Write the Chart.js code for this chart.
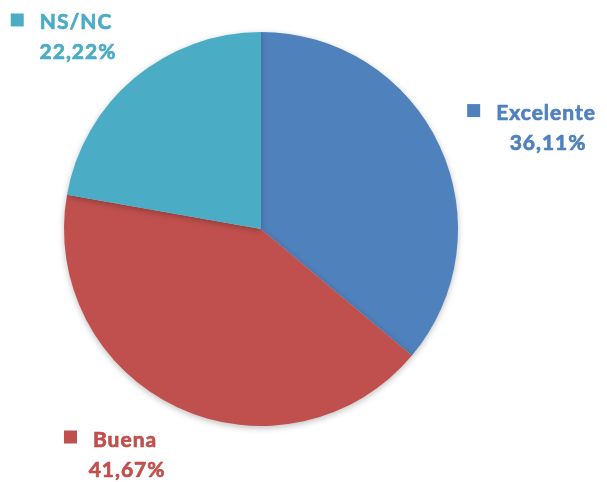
<!DOCTYPE html>
<html><head><meta charset="utf-8">
<script src="https://cdn.jsdelivr.net/npm/chart.js@4"></script>
<style>html,body{margin:0;padding:0;background:#fff}#w{width:607px;height:482px}</style>
</head><body><div id="w"><canvas id="c"></canvas></div>
<script>
const categories = ["Excelente", "Buena", "NS/NC"];
const values = [36.11, 41.67, 22.22];
const valueLabels = ["36,11%", "41,67%", "22,22%"];
const colors = ["#4F81BD", "#C0504D", "#4BACC6"];
// label anchor (centre of category name) as a factor of the radius relative to pie centre
const labelPos = [[1.447, -0.591], [-0.690, 1.066], [-0.939, -1.051]];

const shadowPlugin = {
  id: 'shadow',
  beforeDatasetDraw(chart) { const c = chart.ctx; c.save(); c.shadowColor = 'rgba(0,0,0,0.25)'; c.shadowBlur = 6; c.shadowOffsetY = 2; },
  afterDatasetDraw(chart) { chart.ctx.restore(); }
};
const labelPlugin = {
  id: 'lbl',
  afterDraw(chart) {
    const ctx = chart.ctx;
    const arc = chart.getDatasetMeta(0).data[0];
    const cx = arc.x, cy = arc.y, r = arc.outerRadius;
    ctx.save();
    ctx.font = 'bold 21px Lato, "Open Sans", sans-serif';
    ctx.letterSpacing = '1px';
    ctx.textBaseline = 'alphabetic';
    ctx.textAlign = 'center';
    ctx.lineWidth = 0.7;
    ctx.lineJoin = 'round';
    categories.forEach((cat, i) => {
      const x = cx + labelPos[i][0] * r, y = cy + labelPos[i][1] * r;
      ctx.fillStyle = colors[i];
      ctx.strokeStyle = colors[i];
      const tw = ctx.measureText(cat).width;
      ctx.fillText(cat, x, y + 7.5);
      ctx.strokeText(cat, x, y + 7.5);
      ctx.fillText(valueLabels[i], x + 2, y + 37.5);
      ctx.strokeText(valueLabels[i], x + 2, y + 37.5);
      ctx.fillRect(x - tw / 2 - 16 - 13, y - 8.5, 13, 13);
    });
    ctx.restore();
  }
};
new Chart(document.getElementById('c'), {
  type: 'pie',
  data: { labels: categories, datasets: [{ data: values, backgroundColor: colors, borderWidth: 0 }] },
  options: {
    responsive: true, maintainAspectRatio: false, animation: false,
    layout: { padding: { left: 64, right: 149, top: 32, bottom: 56 } },
    plugins: { legend: { display: false }, tooltip: { enabled: false } }
  },
  plugins: [shadowPlugin, labelPlugin]
});
</script></body></html>
